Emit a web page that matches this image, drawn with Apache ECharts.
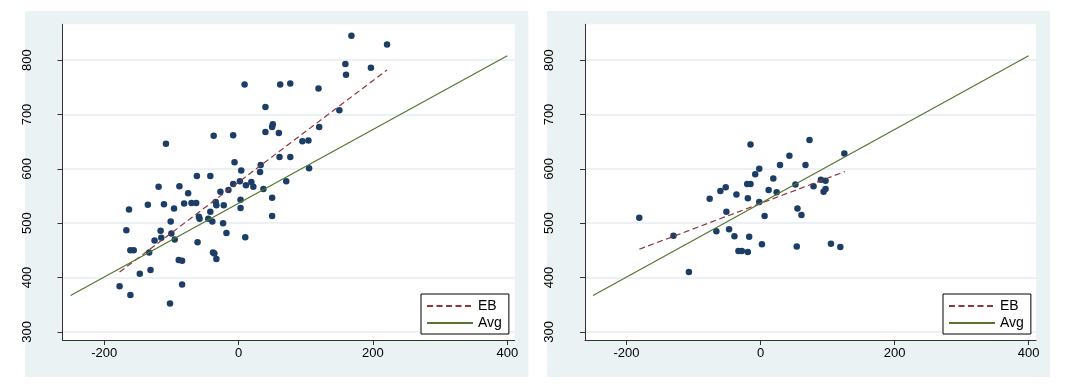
<!DOCTYPE html>
<html><head><meta charset="utf-8">
<script src="https://cdn.jsdelivr.net/npm/echarts@6/dist/echarts.min.js"></script>
<style>html,body{margin:0;padding:0;background:#fff}#c{width:1073px;height:392px}</style>
</head><body><div id="c"></div>
<script>
const xTicks = [-200, 0, 200, 400];
const yTicks = [300, 400, 500, 600, 700, 800];
const seriesNames = ['EB', 'Avg'];

const leftPoints = [
  [168,845],[221,829],[159,793],[197,786],[160,773],[9,755],[62,755],[77,757],[119,748],[40,714],
  [150,708],[51,682],[50,677],[120,677],[40,668],[60,666],[-37,661],[-8,662],[-108,646],[95,651],
  [104,652],[61,622],[77,622],[-6,612],[4,597],[105,601],[33,607],[32,594],[-62,587],[-42,587],
  [-119,567],[-88,568],[-75,555],[-8,572],[2,577],[11,570],[19,576],[22,567],[37,563],[-27,558],
  [-15,561],[71,577],[3,543],[50,547],[-34,539],[-33,533],[-22,533],[-135,534],[-111,535],[-81,536],
  [-70,537],[-63,537],[-96,527],[-163,525],[3,528],[-42,521],[-59,512],[-58,508],[-45,508],[-39,503],
  [-23,500],[-101,503],[50,513],[-167,487],[-116,486],[-100,481],[-115,473],[-125,468],[-95,470],[-61,465],
  [-18,482],[10,474],[-161,450],[-156,450],[-133,446],[-38,446],[-36,444],[-33,434],[-89,432],[-84,431],
  [-147,407],[-131,414],[-84,387],[-177,384],[-161,368],[-102,352]
];
const rightPoints = [
  [73,653],[-15,645],[125,628],[43,624],[29,607],[67,607],[-2,600],[-8,590],[19,582],[90,580],
  [97,578],[-20,572],[-15,572],[52,571],[79,568],[12,561],[24,557],[97,563],[94,558],[-60,559],
  [-52,566],[-36,553],[-76,545],[-19,546],[-2,539],[55,527],[-51,521],[61,515],[6,513],[-181,510],
  [-66,485],[-47,489],[-130,477],[-39,476],[-17,475],[2,461],[54,457],[105,462],[119,456],[-33,449],
  [-28,449],[-19,447],[-107,410]
];
const avgLine = [[-250, 367], [400, 808]];
const ebLeft = [[-177, 410], [221, 782]];
const ebRight = [[-181, 452], [126, 595]];

const FONT = '"Liberation Sans", Arial, sans-serif';
const NAVY = '#1c3e66', MAROON = '#90353b', GREEN = '#55752f';

function xAx(gi) {
  return {
    type: 'value', gridIndex: gi, min: -262, max: 411,
    axisLine: { show: true, onZero: false, lineStyle: { color: '#333', width: 1 } },
    axisTick: { show: true, length: 5, customValues: xTicks, lineStyle: { color: '#333' } },
    axisLabel: { customValues: xTicks, margin: 7, color: '#000', fontSize: 13, fontFamily: FONT },
    splitLine: { show: false }
  };
}
function yAx(gi) {
  return {
    type: 'value', gridIndex: gi, min: 285, max: 866,
    axisLine: { show: true, onZero: false, lineStyle: { color: '#333', width: 1 } },
    axisTick: { show: true, length: 5, customValues: yTicks, lineStyle: { color: '#333' } },
    axisLabel: { customValues: yTicks, rotate: 90, margin: 29, color: '#000', fontSize: 13, fontFamily: FONT },
    splitLine: { show: true, lineStyle: { color: '#e4edf0', width: 1.5 } }
  };
}
function legend(left) {
  return {
    left: left, top: 294, orient: 'vertical', data: seriesNames,
    backgroundColor: '#fff', borderColor: '#000', borderWidth: 1, borderRadius: 0,
    padding: [5, 7, 4, 5], itemWidth: 46, itemHeight: 14, itemGap: 3,
    textStyle: { fontSize: 14, fontFamily: FONT, color: '#000' },
    itemStyle: { color: 'rgba(0,0,0,0)', borderColor: 'rgba(0,0,0,0)', borderWidth: 0, opacity: 0 },
    selectedMode: false
  };
}
function scatter(gi, pts) {
  return { type: 'scatter', xAxisIndex: gi, yAxisIndex: gi, data: pts, symbolSize: 6.5,
    itemStyle: { color: NAVY, opacity: 1 }, z: 2, silent: true };
}
function line(gi, name, pts, color, type) {
  return { type: 'line', name: name, xAxisIndex: gi, yAxisIndex: gi, data: pts,
    symbol: 'none', showSymbol: false, lineStyle: { color: color, width: 1.2, type: type },
    itemStyle: { color: color }, z: 3, silent: true };
}

const chart = echarts.init(document.getElementById('c'), null, { renderer: 'canvas' });
chart.setOption({
  animation: false,
  backgroundColor: '#fff',
  graphic: [
    { type: 'rect', z: -10, silent: true, shape: { x: 25, y: 11, width: 503.3, height: 366 }, style: { fill: '#eaf2f3' } },
    { type: 'rect', z: -10, silent: true, shape: { x: 547, y: 11, width: 503, height: 366 }, style: { fill: '#eaf2f3' } }
  ],
  grid: [
    { left: 62.5, top: 24.3, width: 452.2, height: 315.7, show: true, backgroundColor: '#fff', borderWidth: 0, containLabel: false },
    { left: 585, top: 24.3, width: 451, height: 315.7, show: true, backgroundColor: '#fff', borderWidth: 0, containLabel: false }
  ],
  xAxis: [xAx(0), xAx(1)],
  yAxis: [yAx(0), yAx(1)],
  legend: [legend(421), legend(943)],
  series: [
    scatter(0, leftPoints),
    line(0, 'EB', ebLeft, MAROON, [6, 3.5]),
    line(0, 'Avg', avgLine, GREEN, 'solid'),
    scatter(1, rightPoints),
    line(1, 'EB', ebRight, MAROON, [6, 3.5]),
    line(1, 'Avg', avgLine, GREEN, 'solid')
  ]
});
</script></body></html>
